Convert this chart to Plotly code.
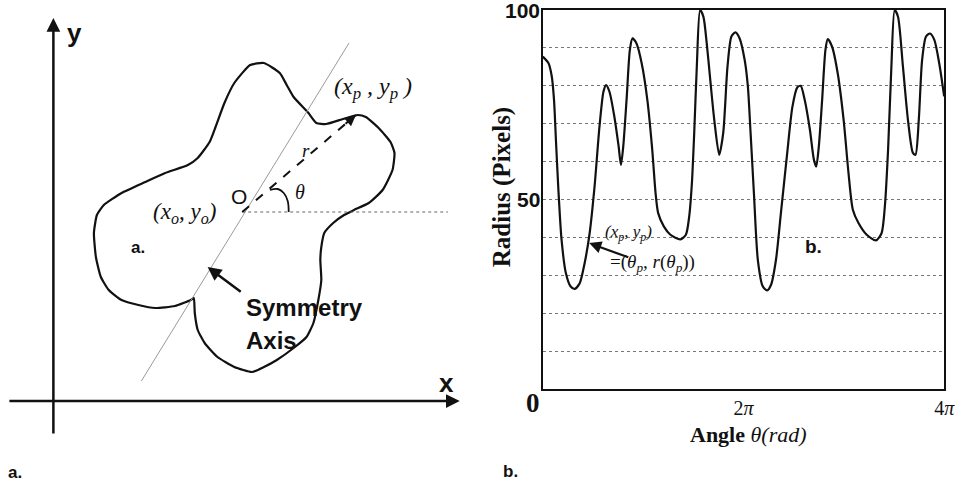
import plotly.graph_objects as go

# ---------------- Panel b data: radius profile r(theta) ----------------
theta_over_pi = [0, 0.056, 0.089, 0.112, 0.131, 0.154, 0.187, 0.230, 0.276, 0.319,
                 0.368, 0.417, 0.467, 0.516, 0.565, 0.605, 0.631, 0.664, 0.713, 0.756,
                 0.779, 0.802, 0.835, 0.868, 0.894, 0.933, 0.986, 1.042, 1.091, 1.124,
                 1.150, 1.206, 1.272, 1.371, 1.426, 1.459, 1.486, 1.509, 1.535, 1.568,
                 1.601, 1.634, 1.666, 1.709, 1.758, 1.798, 1.841, 1.880, 1.920, 1.962,
                 2.012, 2.044, 2.071, 2.104, 2.143, 2.192, 2.235, 2.275, 2.324, 2.373,
                 2.432, 2.488, 2.537, 2.570, 2.610, 2.662, 2.702, 2.725, 2.751, 2.784,
                 2.817, 2.840, 2.883, 2.939, 2.998, 3.047, 3.090, 3.146, 3.228, 3.320,
                 3.376, 3.409, 3.441, 3.474, 3.507, 3.540, 3.589, 3.639, 3.688, 3.714,
                 3.747, 3.780, 3.819, 3.859, 3.902, 3.951, 4.0]
radius_px = [87.7, 86.0, 82.6, 76.3, 65.7, 53.4, 39.4, 30.6, 27.1, 26.4,
             27.9, 33.2, 41.1, 53.4, 69.2, 78.5, 80.2, 78.5, 71.9, 64.0,
             59.1, 64.0, 76.3, 89.5, 92.5, 91.2, 85.9, 76.3, 63.1, 51.7,
             46.4, 42.9, 40.7, 39.5, 40.7, 45.5, 54.3, 67.5, 85.1, 100.0,
             98.2, 91.2, 82.4, 71.0, 61.8, 67.5, 85.1, 93.0, 94.1, 92.5,
             86.8, 79.8, 67.5, 51.7, 34.1, 27.1, 26.0, 27.5, 34.1, 46.4,
             61.3, 74.5, 79.6, 80.0, 76.3, 68.4, 60.5, 58.7, 64.0, 76.3,
             89.5, 92.3, 90.3, 83.3, 71.0, 56.9, 47.3, 43.8, 40.7, 39.2,
             41.1, 48.2, 63.1, 85.1, 100.0, 98.2, 85.1, 71.0, 62.3, 61.8,
             71.0, 86.8, 93.0, 93.8, 92.1, 85.9, 77.2]
x_tick_vals = [2, 4]
x_tick_text = ["2<i>π</i>", "4<i>π</i>"]
y_label_vals = [50, 100]
y_label_text = ["<b>50</b>", "<b>100</b>"]

# ---------------- Panel a data: contour of the shape (diagram units) ----------------
blob_x = [199, 213, 229, 236, 243, 258, 266, 276, 293, 308, 316, 329, 341, 345, 343,
          333, 319, 304, 294, 283, 274, 271, 270, 271, 268, 263, 256, 243, 226, 213,
          201, 183, 166, 153, 146, 143, 142, 139, 123, 103, 86, 69, 56, 48, 43,
          41, 44, 51, 69, 93, 113, 136, 146, 158, 164, 173, 183, 199]
blob_y = [336, 338, 328, 316, 304, 288, 278, 277, 282, 286, 284, 273, 259, 248, 231,
          211, 198, 191, 186, 178, 168, 154, 141, 121, 101, 78, 64, 53, 41, 34,
          29, 34, 44, 58, 71, 88, 103, 101, 95, 93, 96, 101, 111, 124, 144,
          168, 186, 196, 208, 219, 228, 236, 243, 259, 274, 298, 318, 336]
centre_xy = (191, 189)
point_p_xy = (306, 286)
sym_axis_x = [89, 299]
sym_axis_y = [20, 358]
arc_x = [219, 227, 233, 237, 238]
arc_y = [211, 212, 208, 200, 189]

BLACK = "#111111"
SERIF = "Liberation Serif, Times New Roman, serif"
SANS = "Liberation Sans, Arial, sans-serif"
W, H = 970, 482

fig = go.Figure()

# Panel b curve
fig.add_trace(go.Scatter(x=theta_over_pi, y=radius_px, mode="lines",
                         line=dict(color=BLACK, width=2.2, shape="spline", smoothing=0.7),
                         xaxis="x", yaxis="y", hoverinfo="skip", cliponaxis=True))

# Panel a: shape outline
fig.add_trace(go.Scatter(x=blob_x, y=blob_y, mode="lines",
                         line=dict(color=BLACK, width=2.2, shape="spline", smoothing=0.5),
                         xaxis="x2", yaxis="y2", hoverinfo="skip"))
# symmetry axis
fig.add_trace(go.Scatter(x=sym_axis_x, y=sym_axis_y, mode="lines",
                         line=dict(color="#9a9a9a", width=1),
                         xaxis="x2", yaxis="y2", hoverinfo="skip"))
# dotted horizontal reference through centre
fig.add_trace(go.Scatter(x=[centre_xy[0], 399], y=[centre_xy[1], centre_xy[1]], mode="lines",
                         line=dict(color="#666666", width=1, dash="dot"),
                         xaxis="x2", yaxis="y2", hoverinfo="skip"))
# dashed radius r
fig.add_trace(go.Scatter(x=[centre_xy[0], point_p_xy[0]], y=[centre_xy[1], point_p_xy[1]],
                         mode="lines", line=dict(color=BLACK, width=2, dash="dash"),
                         xaxis="x2", yaxis="y2", hoverinfo="skip"))
# theta arc
fig.add_trace(go.Scatter(x=arc_x, y=arc_y, mode="lines",
                         line=dict(color=BLACK, width=1.8, shape="spline"),
                         xaxis="x2", yaxis="y2", hoverinfo="skip"))

ann = []

def arrow(x, y, ax, ay, width=2.2, ref="2"):
    ann.append(dict(x=x, y=y, ax=ax, ay=ay, xref="x" + ref, yref="y" + ref,
                    axref="x" + ref, ayref="y" + ref, showarrow=True, arrowhead=2,
                    arrowsize=1.1, arrowwidth=width, arrowcolor=BLACK, text=""))

def txt(x, y, text, size, family=SANS, xref="x2", yref="y2", xanchor="center", angle=0):
    ann.append(dict(x=x, y=y, xref=xref, yref=yref, text=text, showarrow=False,
                    xanchor=xanchor, yanchor="middle", textangle=angle,
                    font=dict(size=size, family=family, color=BLACK)))

# panel a axes arrows
arrow(0, 383, 0, -34, width=2.5)
arrow(411, 0, -46, 0, width=2.5)
# arrowhead for r
arrow(point_p_xy[0], point_p_xy[1], point_p_xy[0] - 12, point_p_xy[1] - 10, width=2)
# symmetry-axis pointer
arrow(156, 134, 191, 108, width=2.5)

txt(21, 368, "<b>y</b>", 26)
txt(398, 18, "<b>x</b>", 26)
txt(188, 205, "O", 21)
txt(133, 188, "<i>(x<sub>o</sub>, y<sub>o</sub>)</i>", 23, SERIF)
txt(323, 313, "<i>(x<sub>p</sub> , y<sub>p</sub> )</i>", 24, SERIF)
txt(249, 209, "<i>θ</i>", 20, SERIF)
txt(256, 251, "<i>r</i>", 19, SERIF)
txt(86, 154, "<b>a.</b>", 17)
txt(193, 94, "<b>Symmetry</b>", 24, xanchor="left")
txt(193, 61, "<b>Axis</b>", 24, xanchor="left")
txt(-39, -71, "<b>a.</b>", 17)

# panel b texts (paper coords from pixels)
def P(px, py):
    return px / W, 1 - py / H

for (px, py), text, size, fam, angle in [
    ((539, 403), "<b>0</b>", 27, SERIF, 0),
    ((757, 434), "<b>Angle</b> <i>θ(rad)</i>", 22, SERIF, 0),
    ((508, 187), "<b>Radius (Pixels)</b>", 25, SERIF, -90),
    ((823, 247), "<b>b.</b>", 19, SANS, 0),
    ((516, 471), "<b>b.</b>", 17, SANS, 0),
]:
    x, y = P(px, py)
    txt(x, y, text, size, fam, xref="paper", yref="paper", angle=angle)

# y labels of panel b, right-aligned against the frame
for v, t in zip(y_label_vals, y_label_text):
    ann.append(dict(x=0, y=v, xref="x", yref="y", text=t, showarrow=False,
                    xanchor="right", yanchor="middle", xshift=-1,
                    font=dict(size=21, family=SANS, color=BLACK)))

txt(0.857, 41.2, "<i>(x<sub>p</sub>, y<sub>p</sub>)</i>", 17, SERIF, xref="x", yref="y")
txt(1.09, 33.2, "=(<i>θ<sub>p</sub>, r</i>(<i>θ<sub>p</sub></i>))", 19, SERIF, xref="x", yref="y")
arrow(0.463, 38.5, 0.867, 34.6, width=2.2, ref="")

fig.update_layout(
    width=W, height=H, autosize=False, margin=dict(l=0, r=0, t=0, b=0),
    paper_bgcolor="white", plot_bgcolor="rgba(0,0,0,0)", showlegend=False,
    annotations=ann,
    xaxis=dict(domain=[549 / W, 955 / W], range=[0, 4], anchor="y",
               showline=True, linecolor=BLACK, linewidth=2, mirror=True,
               tickvals=x_tick_vals, ticktext=x_tick_text, ticks="",
               tickfont=dict(family=SERIF, size=20, color=BLACK),
               showgrid=False, zeroline=False, fixedrange=True),
    yaxis=dict(domain=[1 - 389 / H, 1 - 10 / H], range=[0, 100], anchor="x",
               showline=True, linecolor=BLACK, linewidth=2, mirror=True,
               tickvals=[50], showticklabels=False, ticks="",
               showgrid=True, gridcolor="#777777", griddash="dot", gridwidth=1,
               minor=dict(dtick=10, showgrid=True, gridcolor="#777777",
                          griddash="dot", gridwidth=1, ticks=""),
               zeroline=False, fixedrange=True),
    xaxis2=dict(domain=[0, 480 / W], range=[-54, 426], anchor="y2",
                visible=False, fixedrange=True),
    yaxis2=dict(domain=[0, 1], range=[-81, 401], anchor="x2",
                visible=False, fixedrange=True),
)

fig.write_html("out.html",
               config={"displayModeBar": False, "responsive": False},
               post_script="document.body.style.margin='0';document.body.style.padding='0';"
                           "document.body.style.overflow='hidden';")
